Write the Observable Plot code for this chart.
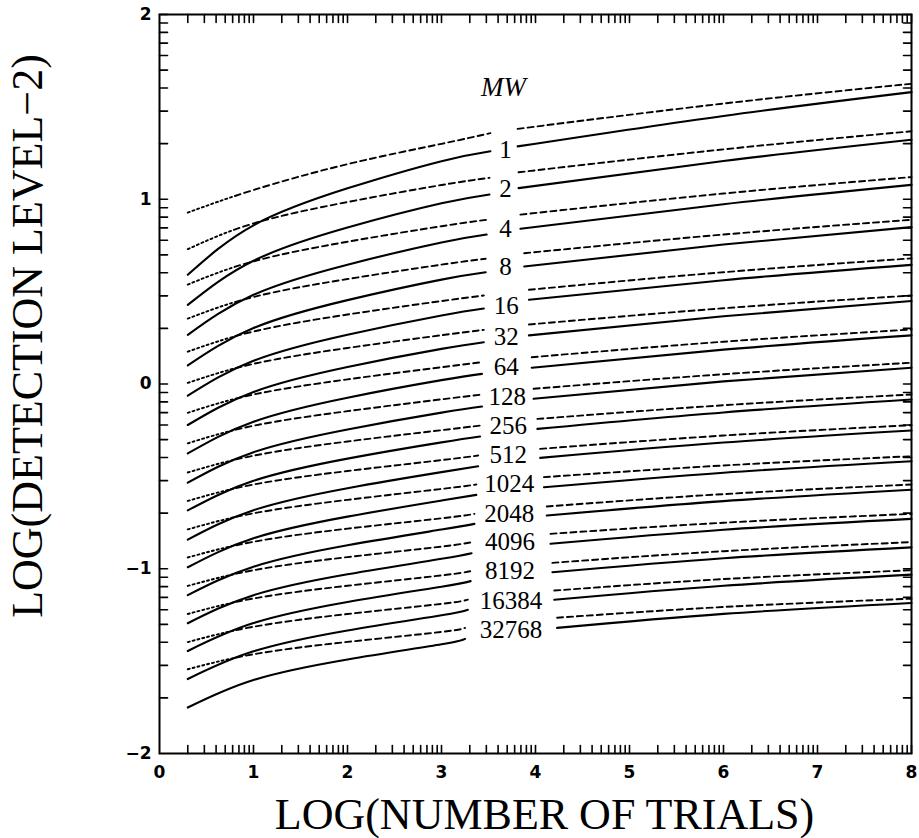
<!DOCTYPE html>
<html><head><meta charset="utf-8">
<script src="https://cdn.jsdelivr.net/npm/d3@7"></script>
<script src="https://cdn.jsdelivr.net/npm/@observablehq/plot@0.6"></script>
<style>
html,body{margin:0;padding:0;background:#fff;}
#chart svg{display:block}
</style></head><body><div id="chart"></div>
<script>
// ---- data ----
const mwLabels = ["1","2","4","8","16","32","64","128","256","512","1024","2048","4096","8192","16384","32768"];
const leftX = [0.301, 1, 2, 3];          // sample points of the left segments (plus gapLeftX)
const rightX = [6, 8];                   // sample points of the right segments (after gapRightX)
const gapLeftX  = [3.52,3.51,3.48,3.47,3.45,3.45,3.43,3.43,3.41,3.39,3.37,3.35,3.32,3.31,3.28,3.25];
const gapRightX = [3.81,3.82,3.84,3.88,3.93,3.93,3.96,3.98,4.02,4.05,4.09,4.12,4.16,4.18,4.20,4.23];
const dashedLeftY = [
  [0.928,1.05,1.19,1.30,1.358],
  [0.730,0.869,0.985,1.077,1.116],
  [0.538,0.664,0.770,0.854,0.889],
  [0.354,0.471,0.568,0.646,0.678],
  [0.175,0.284,0.376,0.449,0.479],
  [0.006,0.109,0.195,0.264,0.293],
  [-0.156,-0.057,0.025,0.091,0.118],
  [-0.321,-0.226,-0.147,-0.083,-0.057],
  [-0.479,-0.388,-0.311,-0.25,-0.225],
  [-0.633,-0.544,-0.471,-0.412,-0.387],
  [-0.787,-0.70,-0.627,-0.568,-0.544],
  [-0.939,-0.854,-0.783,-0.727,-0.703],
  [-1.093,-1.008,-0.937,-0.88,-0.856],
  [-1.245,-1.161,-1.092,-1.036,-1.013],
  [-1.397,-1.314,-1.245,-1.19,-1.167],
  [-1.544,-1.463,-1.396,-1.342,-1.32]
];
const dashedRightY = [
  [1.381,1.518,1.625],
  [1.146,1.270,1.368],
  [0.917,1.031,1.12],
  [0.708,0.809,0.889],
  [0.51,0.605,0.68],
  [0.322,0.41,0.479],
  [0.145,0.229,0.295],
  [-0.026,0.053,0.115],
  [-0.189,-0.115,-0.057],
  [-0.351,-0.279,-0.223],
  [-0.504,-0.441,-0.391],
  [-0.663,-0.596,-0.544],
  [-0.811,-0.751,-0.703],
  [-0.968,-0.905,-0.856],
  [-1.118,-1.056,-1.008],
  [-1.265,-1.207,-1.162]
];
const solidLeftY = [
  [0.591,0.859,1.059,1.206,1.26],
  [0.428,0.667,0.847,0.978,1.026],
  [0.266,0.483,0.646,0.766,0.809],
  [0.101,0.303,0.454,0.565,0.605],
  [-0.063,0.126,0.267,0.371,0.409],
  [-0.222,-0.043,0.092,0.19,0.226],
  [-0.376,-0.204,-0.074,0.021,0.055],
  [-0.534,-0.369,-0.246,-0.155,-0.122],
  [-0.684,-0.524,-0.404,-0.316,-0.284],
  [-0.842,-0.683,-0.564,-0.477,-0.445],
  [-0.992,-0.835,-0.718,-0.631,-0.60],
  [-1.143,-0.989,-0.873,-0.788,-0.757],
  [-1.295,-1.143,-1.03,-0.946,-0.916],
  [-1.445,-1.294,-1.18,-1.097,-1.067],
  [-1.597,-1.447,-1.334,-1.252,-1.222],
  [-1.751,-1.602,-1.491,-1.409,-1.379]
];
const solidRightY = [
  [1.286,1.451,1.58],
  [1.06,1.207,1.322],
  [0.84,0.973,1.078],
  [0.636,0.755,0.849],
  [0.456,0.562,0.645],
  [0.263,0.367,0.449],
  [0.088,0.186,0.263],
  [-0.080,0.014,0.088],
  [-0.243,-0.154,-0.084],
  [-0.40,-0.317,-0.252],
  [-0.559,-0.48,-0.418],
  [-0.712,-0.634,-0.572],
  [-0.865,-0.789,-0.730],
  [-1.019,-0.943,-0.884],
  [-1.168,-1.092,-1.032],
  [-1.32,-1.244,-1.185]
];
const labelX = [3.68,3.68,3.68,3.68,3.69,3.69,3.69,3.70,3.71,3.71,3.72,3.72,3.73,3.73,3.74,3.74];
const labelY = [1.264,1.057,0.84,0.632,0.42,0.253,0.091,-0.071,-0.225,-0.382,-0.54,-0.703,-0.856,-1.01,-1.172,-1.334];
const legendTitle = {text: "MW", x: 3.66, y: 1.605};
const xTickLabels = [0,1,2,3,4,5,6,7,8];
const yTickLabels = [-2,-1,0,1,2];
const xTitle = "LOG(NUMBER OF TRIALS)";
const yTitle = "LOG(DETECTION LEVEL\u22122)";

// ---- build tables ----
const rows = [];
mwLabels.forEach((mw, i) => {
  const lx = [...leftX, gapLeftX[i]];
  const rx = [gapRightX[i], ...rightX];
  lx.forEach((x, j) => {
    rows.push({mw, type: "dashed", seg: "L", key: mw + "dL", x, y: dashedLeftY[i][j]});
    rows.push({mw, type: "solid", seg: "L", key: mw + "sL", x, y: solidLeftY[i][j]});
  });
  rx.forEach((x, j) => {
    rows.push({mw, type: "dashed", seg: "R", key: mw + "dR", x, y: dashedRightY[i][j]});
    rows.push({mw, type: "solid", seg: "R", key: mw + "sR", x, y: solidRightY[i][j]});
  });
});
const labels = mwLabels.map((t, i) => ({t, x: labelX[i], y: labelY[i]}));

// log-style minor ticks n + log10(k)
const xTicks = [], yTicks = [];
for (let n = 0; n < 8; n++) for (let k = 2; k <= 10; k++) xTicks.push(n + Math.log10(k));
for (let n = -2; n < 2; n++) for (let k = 2; k <= 10; k++) yTicks.push(n + Math.log10(k));
const tickShape = {draw(context, l) { context.moveTo(0, 0); context.lineTo(0, -l); }};

// dash pattern: dotted near the start, then dashes
const leftDash = [].concat(Array(10).fill([2, 3]).flat(), Array(45).fill([6, 4]).flat()).join(",");

const serif = "'Liberation Serif', 'DejaVu Serif', serif";
const sans = "'DejaVu Sans', sans-serif";
const tl = 8;

const chart = Plot.plot({
  width: 919, height: 838,
  marginLeft: 159, marginRight: 8, marginTop: 14, marginBottom: 85,
  x: {domain: [0, 8], axis: null},
  y: {domain: [-2, 2], axis: null},
  style: {background: "#fff", color: "#000"},
  marks: [
    Plot.vector(xTicks, {x: d => d, y: -2, length: tl, rotate: 0, anchor: "start", shape: tickShape, stroke: "#000", strokeWidth: 1.6}),
    Plot.vector(xTicks, {x: d => d, y: 2, length: tl, rotate: 180, anchor: "start", shape: tickShape, stroke: "#000", strokeWidth: 1.6}),
    Plot.vector(yTicks, {x: 0, y: d => d, length: tl, rotate: 90, anchor: "start", shape: tickShape, stroke: "#000", strokeWidth: 1.6}),
    Plot.vector(yTicks, {x: 8, y: d => d, length: tl, rotate: -90, anchor: "start", shape: tickShape, stroke: "#000", strokeWidth: 1.6}),
    Plot.frame({stroke: "#000", strokeWidth: 2}),
    Plot.line(rows.filter(d => d.type === "dashed" && d.seg === "L"), {x: "x", y: "y", z: "key", curve: "natural", stroke: "#000", strokeWidth: 1.9, strokeDasharray: leftDash}),
    Plot.line(rows.filter(d => d.type === "dashed" && d.seg === "R"), {x: "x", y: "y", z: "key", curve: "natural", stroke: "#000", strokeWidth: 1.9, strokeDasharray: "6,4"}),
    Plot.line(rows.filter(d => d.type === "solid"), {x: "x", y: "y", z: "key", curve: "natural", stroke: "#000", strokeWidth: 2.1}),
    Plot.text(labels, {x: "x", y: "y", text: "t", fontSize: 25, fontFamily: serif, fill: "#000"}),
    Plot.text([legendTitle], {x: "x", y: "y", text: "text", fontSize: 27, fontStyle: "italic", fontFamily: serif, fill: "#000"}),
    Plot.text(xTickLabels, {x: d => d, y: -2, dy: 19, text: d => String(d), fontSize: 17, fontWeight: "bold", fontFamily: sans, fill: "#000"}),
    Plot.text(yTickLabels, {x: 0, y: d => d, dx: -8, textAnchor: "end", text: d => (d < 0 ? "\u2212" + Math.abs(d) : String(d)), fontSize: 17, fontWeight: "bold", fontFamily: sans, fill: "#000"}),
    Plot.text([xTitle], {frameAnchor: "bottom", textAnchor: "middle", lineAnchor: "middle", dx: 9, dy: 61, text: d => d, fontSize: 44, fontFamily: serif, fill: "#000"}),
    Plot.text([yTitle], {frameAnchor: "left", textAnchor: "middle", lineAnchor: "middle", dx: -132, dy: -48, rotate: -90, text: d => d, fontSize: 44, fontFamily: serif, fill: "#000"})
  ]
});
document.getElementById("chart").appendChild(chart);
</script>
</body></html>
